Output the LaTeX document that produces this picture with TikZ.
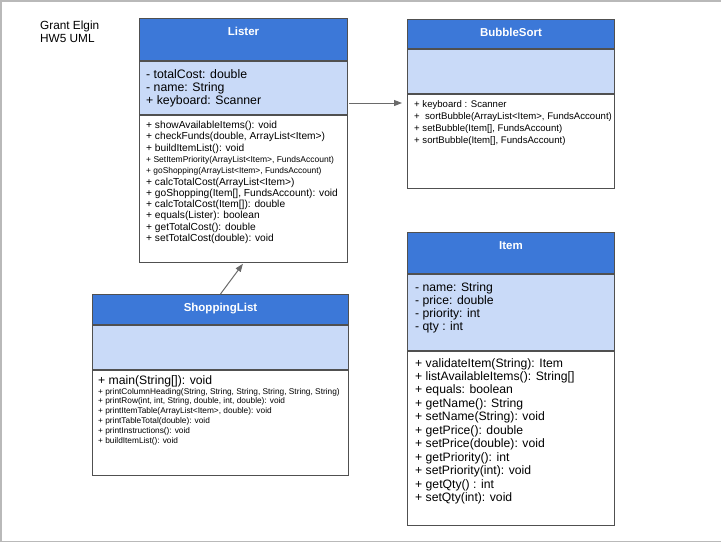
\documentclass[tikz,border=0pt]{standalone}
\usepackage{fontspec}
\setmainfont{Liberation Sans}
\usepackage{tikz}
\usetikzlibrary{arrows.meta}
\usetikzlibrary{calc}
\definecolor{headblue}{HTML}{3C78D8}
\definecolor{fieldblue}{HTML}{C9DAF8}
\definecolor{umlline}{HTML}{505050}

\begin{document}
\begin{tikzpicture}[x=1pt,y=-1pt]
\tikzstyle{compart}=[draw=umlline,line width=1pt,inner sep=0,anchor=north west]
\tikzstyle{header}=[compart,fill=headblue]
\tikzstyle{fields}=[compart,fill=fieldblue]
\tikzstyle{ops}=[compart,fill=white]
\tikzstyle{title}=[text=white,inner sep=0,text height=8.2pt,text depth=0pt,font=\bfseries\fontsize{11.5}{13}\selectfont]
\tikzstyle{members}=[anchor=north west,inner sep=0,align=left]
\tikzstyle{assoc}=[draw=umlline!85,line width=1pt,-{Triangle[length=8pt,width=6pt]}]
\useasboundingbox (0,0) rectangle (721,542);
\draw [gray!55, line width=1.5pt] (721,0.75) -- (0.75,0.75) -- (0.75,541.25) -- (721,541.25);
\node [members,font=\fontsize{11.8}{13.4}\selectfont] (note) at (40,20.7) {Grant Elgin\\HW5 UML};
\node [header,minimum width=208pt,minimum height=42pt] (lister) at (139,18) {};
\node [fields,minimum width=208pt,minimum height=53pt] (lister attr) at (lister.south west) {};
\node [ops,minimum width=208pt,minimum height=147pt] (lister ops) at (lister attr.south west) {};
\node [title] at ($(lister.north)+(0,13.5)$) {Lister};
\node [members,font=\fontsize{12.3}{13}\selectfont] (lister fields) at (146,69) {- totalCost: double\\- name: String\\+ keyboard: Scanner};
\node [members,font=\fontsize{10.2}{11.3}\selectfont] (lister methods) at (146,121) {+ showAvailableItems(): void\\+ checkFunds(double, ArrayList<Item>)\\+ buildItemList(): void\\{\fontsize{8.5}{11.3}\selectfont + SetItemPriority(ArrayList<Item>, FundsAccount)}\\{\fontsize{8.4}{11.3}\selectfont + goShopping(ArrayList<Item>, FundsAccount)}\\+ calcTotalCost(ArrayList<Item>)\\+ goShopping(Item[], FundsAccount): void\\+ calcTotalCost(Item[]): double\\+ equals(Lister): boolean\\+ getTotalCost(): double\\+ setTotalCost(double): void};
\node [header,minimum width=207pt,minimum height=29pt] (bubble) at (407,19) {};
\node [fields,minimum width=207pt,minimum height=44pt] (bubble attr) at (bubble.south west) {};
\node [ops,minimum width=207pt,minimum height=94pt] (bubble ops) at (bubble attr.south west) {};
\node [title] at ($(bubble.north)+(0,13)$) {BubbleSort};
\node [members,font=\fontsize{9.6}{12}\selectfont] (bubble methods) at (414,100) {+ keyboard : Scanner\\+~ sortBubble(ArrayList<Item>, FundsAccount)\\+ setBubble(Item[], FundsAccount)\\+ sortBubble(Item[], FundsAccount)};
\node [header,minimum width=207pt,minimum height=41pt] (item) at (407,232) {};
\node [fields,minimum width=207pt,minimum height=76pt] (item attr) at (item.south west) {};
\node [ops,minimum width=207pt,minimum height=174pt] (item ops) at (item attr.south west) {};
\node [title] at ($(item.north)+(0,13.5)$) {Item};
\node [members,font=\fontsize{12.2}{13}\selectfont] (item fields) at (415,282) {- name: String\\- price: double\\- priority: int\\- qty : int};
\node [members,font=\fontsize{12.2}{13.47}\selectfont] (item methods) at (415,358) {+ validateItem(String): Item\\+ listAvailableItems(): String[]\\+ equals: boolean\\+ getName(): String\\+ setName(String): void\\+ getPrice(): double\\+ setPrice(double): void\\+ getPriority(): int\\+ setPriority(int): void\\+ getQty() : int\\+ setQty(int): void};
\node [header,minimum width=256pt,minimum height=30pt] (shopping) at (92,294) {};
\node [fields,minimum width=256pt,minimum height=44pt] (shopping attr) at (shopping.south west) {};
\node [ops,minimum width=256pt,minimum height=105pt] (shopping ops) at (shopping attr.south west) {};
\node [title] at ($(shopping.north)+(0,13.5)$) {ShoppingList};
\node [members,font=\fontsize{8.3}{9.8}\selectfont] (shopping methods) at (98,375.2) {{\fontsize{12.2}{9.8}\selectfont + main(String[]): void}\\+ printColumnHeading(String, String, String, String, String, String)\\+ printRow(int, int, String, double, int, double): void\\+ printItemTable(ArrayList<Item>, double): void\\+ printTableTotal(double): void\\+ printInstructions(): void\\+ buildItemList(): void};
\coordinate (link) at ($(lister attr.south east)+(1,-12)$);
\draw [assoc, shorten >=5pt] (link) -- (link -| bubble ops.west);
\draw [assoc, shorten >=1pt] (shopping.north) -- (lister ops.south);
\end{tikzpicture}
\end{document}
